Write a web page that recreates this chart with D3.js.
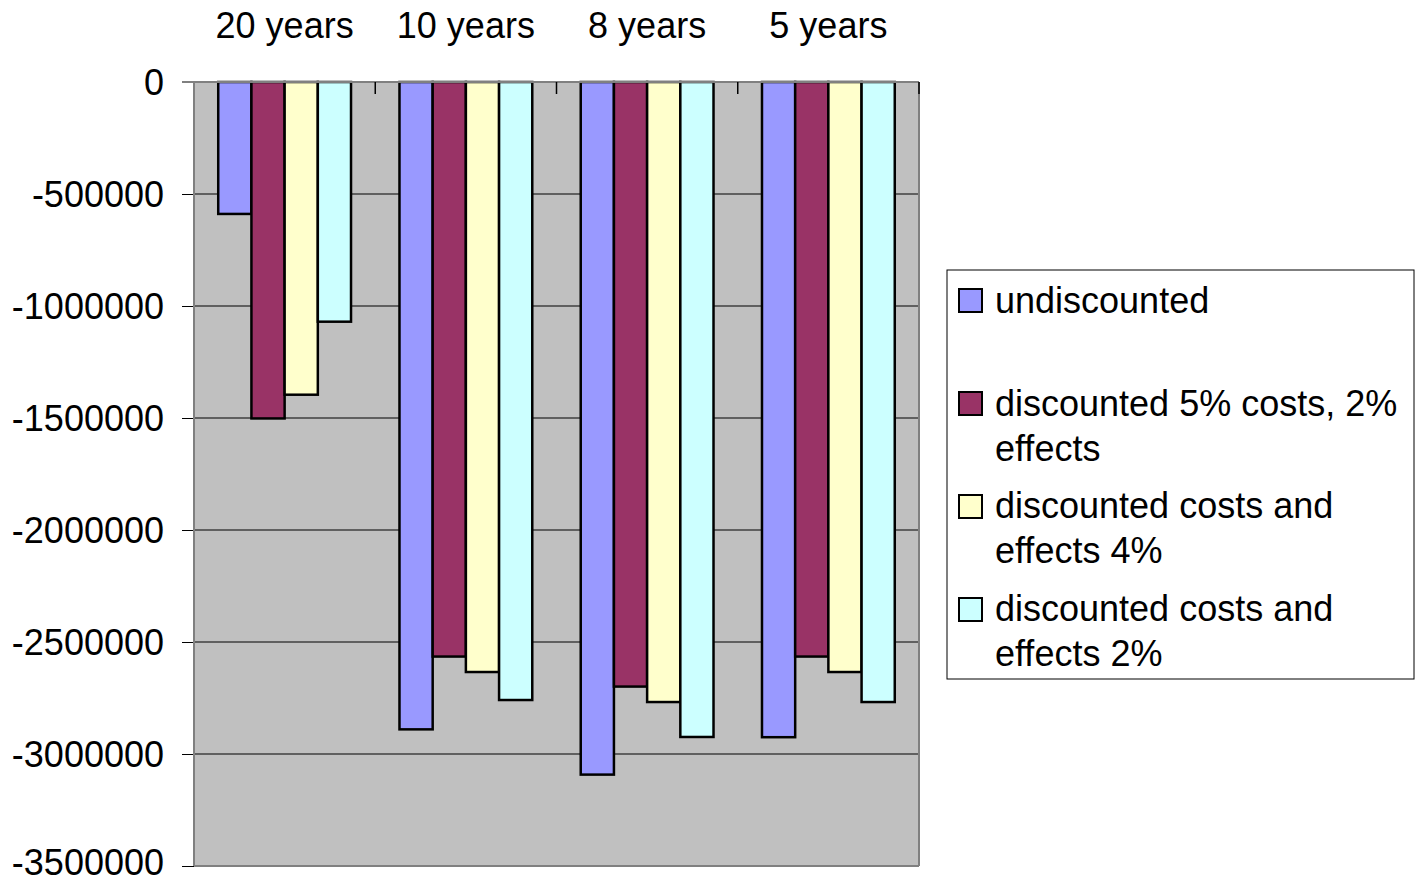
<!DOCTYPE html>
<html><head><meta charset="utf-8">
<script src="https://cdn.jsdelivr.net/npm/d3@7"></script>
<style>body{margin:0;background:#fff}svg{display:block}text{font-family:"Liberation Sans",Arial,sans-serif}</style>
</head><body>
<svg id="c" width="1416" height="885"></svg>
<script>
const categories = ["20 years","10 years","8 years","5 years"];
const seriesNames = ["undiscounted","discounted 5% costs, 2% effects","discounted costs and effects 4%","discounted costs and effects 2%"];
const legendLines = [["undiscounted"],["discounted 5% costs, 2%","effects"],["discounted costs and","effects 4%"],["discounted costs and","effects 2%"]];
const undiscounted = [-589000,-2890000,-3092000,-2925000];
const disc5cost2eff = [-1502000,-2565000,-2699000,-2565000];
const disc4 = [-1396000,-2634000,-2768000,-2634000];
const disc2 = [-1070000,-2759000,-2924000,-2768000];
const yTicks = [0,-500000,-1000000,-1500000,-2000000,-2500000,-3000000,-3500000];
const colors = ["#9999FF","#993366","#FFFFCC","#CCFFFF"];
const values = [undiscounted,disc5cost2eff,disc4,disc2];

const FS = 36;
const svg = d3.select("#c");
const L=194,R=919,T=82,B=866;
const y = d3.scaleLinear().domain([0,-3500000]).range([T,B]);
const x0 = d3.scaleBand().domain(categories).range([L,R]).padding(0);
const x1 = d3.scaleBand().domain(d3.range(4)).range([0,x0.bandwidth()]).paddingInner(0).paddingOuter(0.73);

svg.append("rect").attr("x",L).attr("y",T).attr("width",R-L).attr("height",B-T).attr("fill","#C0C0C0");
svg.append("g").selectAll("line").data(yTicks.slice(1,-1)).join("line")
  .attr("x1",L).attr("x2",R).attr("y1",d=>y(d)).attr("y2",d=>y(d)).attr("stroke","#000").attr("stroke-width",1);

const yAxis = d3.axisLeft(y).tickValues(yTicks).tickSize(12).tickPadding(18).tickFormat(d=>String(d));
const ga = svg.append("g").attr("transform",`translate(${L},0)`).call(yAxis);
ga.select(".domain").remove();
ga.selectAll(".tick line").attr("stroke","#000");
ga.selectAll("text").attr("font-size",FS).attr("fill","#000")
  .attr("dy",(d,i)=> i===yTicks.length-1 ? "0.24em" : "0.36em")
  .style("font-family",'"Liberation Sans",Arial,sans-serif');

categories.forEach((c,i)=>{
  values.forEach((s,j)=>{
    svg.append("rect").attr("x",x0(c)+x1(j)).attr("y",y(0)).attr("width",x1.bandwidth())
      .attr("height",y(s[i])-y(0)).attr("fill",colors[j]).attr("stroke","#000").attr("stroke-width",2.5);
  });
});

svg.append("line").attr("x1",L).attr("x2",L).attr("y1",T).attr("y2",B).attr("stroke","#808080").attr("stroke-width",2);
svg.append("line").attr("x1",R).attr("x2",R).attr("y1",T).attr("y2",B).attr("stroke","#808080").attr("stroke-width",2);
svg.append("line").attr("x1",L).attr("x2",R).attr("y1",B).attr("y2",B).attr("stroke","#808080").attr("stroke-width",2);
svg.append("line").attr("x1",L-12).attr("x2",R).attr("y1",T).attr("y2",T).attr("stroke","#808080").attr("stroke-width",2);
svg.append("g").selectAll("line").data(categories.slice(1)).join("line")
  .attr("x1",d=>x0(d)).attr("x2",d=>x0(d)).attr("y1",T).attr("y2",T+12).attr("stroke","#000").attr("stroke-width",1.5);
svg.append("line").attr("x1",R).attr("x2",R).attr("y1",T).attr("y2",T+12).attr("stroke","#000").attr("stroke-width",1.5);

svg.append("g").selectAll("text").data(categories).join("text")
  .attr("x",d=>x0(d)+x0.bandwidth()/2).attr("y",38).attr("text-anchor","middle")
  .attr("font-size",FS).attr("fill","#000").text(d=>d);

svg.append("rect").attr("x",947).attr("y",270).attr("width",467).attr("height",409).attr("fill","#fff").attr("stroke","#000").attr("stroke-width",1);
const swY=[289,392,495,598];
const baseY=[[313],[416,461],[518,563],[621,666]];
legendLines.forEach((lines,i)=>{
  svg.append("rect").attr("x",959).attr("y",swY[i]).attr("width",23).attr("height",23).attr("fill",colors[i]).attr("stroke","#000").attr("stroke-width",2);
  lines.forEach((t,k)=>{
    svg.append("text").attr("x",995).attr("y",baseY[i][k]).attr("font-size",FS).attr("fill","#000").text(t);
  });
});
</script>
</body></html>
